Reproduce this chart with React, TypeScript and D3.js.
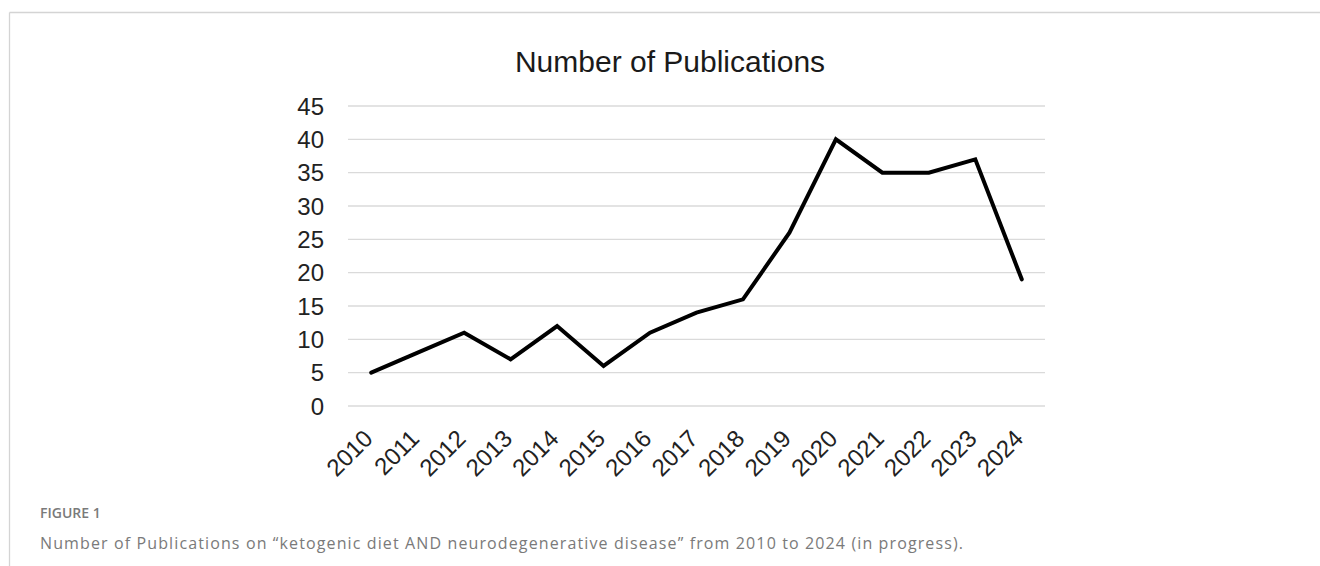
import React from "react";
import * as d3 from "d3";

const years: string[] = ["2010","2011","2012","2013","2014","2015","2016","2017","2018","2019","2020","2021","2022","2023","2024"];
const publications: number[] = [5, 8, 11, 7, 12, 6, 11, 14, 16, 26, 40, 35, 35, 37, 19];
const yTicks: number[] = [0, 5, 10, 15, 20, 25, 30, 35, 40, 45];
const chartTitle = "Number of Publications";
const figureLabel = "FIGURE 1";
const captionText = "Number of Publications on \u201cketogenic diet AND neurodegenerative disease\u201d from 2010 to 2024 (in progress).";

const W = 1320;
const H = 566;
const plotLeft = 348;
const plotRight = 1045;
const plotTop = 106;
const plotBottom = 406;

export default function App() {
  const x = d3.scaleBand<string>().domain(years).range([plotLeft, plotRight]).padding(0);
  const y = d3.scaleLinear().domain([0, 45]).range([plotBottom, plotTop]);
  const cx = (yr: string) => (x(yr) as number) + x.bandwidth() / 2;
  const line = d3
    .line<number>()
    .x((_, i) => cx(years[i]))
    .y((d) => y(d));

  const chartFont = "'Liberation Sans', Arial, Helvetica, sans-serif";
  const capFont = "'Open Sans', 'Noto Sans', sans-serif";

  return (
    <div style={{ position: "absolute", left: 0, top: 0, width: W, height: H, background: "#fff" }}>
      <svg width={W} height={H} viewBox={`0 0 ${W} ${H}`} style={{ display: "block" }}>
        <rect x={0} y={0} width={W} height={H} fill="#fff" />
        {/* frame */}
        <line x1={9.5} y1={12.5} x2={W} y2={12.5} stroke="#d4d4d4" strokeWidth={1.3} />
        <line x1={9.5} y1={12.5} x2={9.5} y2={H} stroke="#d4d4d4" strokeWidth={1.3} />

        {/* title */}
        <text x={670} y={72} textAnchor="middle" fontFamily={chartFont} fontSize={30} fill="#1a1a1a">
          {chartTitle}
        </text>

        {/* gridlines + y labels */}
        {yTicks.map((t) => (
          <g key={t}>
            <line x1={plotLeft} x2={plotRight} y1={y(t)} y2={y(t)} stroke="#dadada" strokeWidth={1.3} />
            <text
              x={324}
              y={y(t)}
              dy="0.36em"
              textAnchor="end"
              fontFamily={chartFont}
              fontSize={24}
              fill="#222"
            >
              {t}
            </text>
          </g>
        ))}

        {/* line */}
        <path
          d={line(publications) || ""}
          fill="none"
          stroke="#000"
          strokeWidth={4}
          strokeLinejoin="miter"
          strokeLinecap="round"
        />

        {/* x labels */}
        {years.map((yr) => {
          const ax = cx(yr) + 3;
          const ay = 440;
          return (
            <text
              key={yr}
              x={ax}
              y={ay}
              textAnchor="end"
              transform={`rotate(-45 ${ax} ${ay})`}
              fontFamily={chartFont}
              fontSize={24}
              fill="#222"
            >
              {yr}
            </text>
          );
        })}

        {/* caption */}
        <text x={40} y={518} fontFamily={capFont} fontSize={14} fontWeight={600} fill="#7a7a7a">
          {figureLabel}
        </text>
        <text
          x={40}
          y={549}
          fontFamily={capFont}
          fontSize={16}
          fill="#7a7a7a"
          textLength={923}
          lengthAdjust="spacing"
        >
          {captionText}
        </text>
      </svg>
    </div>
  );
}
